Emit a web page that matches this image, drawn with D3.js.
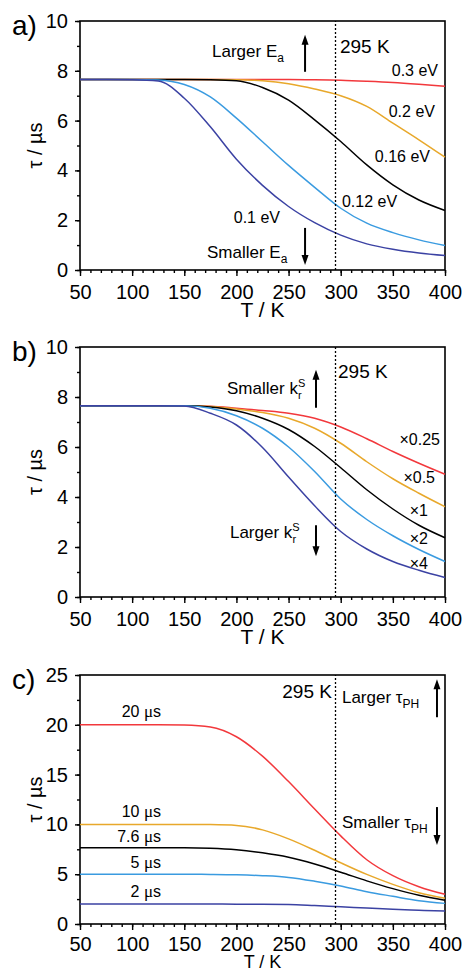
<!DOCTYPE html>
<html>
<head>
<meta charset="utf-8">
<script src="https://cdn.jsdelivr.net/npm/d3@7"></script>
<style>
  body { margin: 0; background: #fff; }
  svg { display: block; font-family: "Liberation Sans", Arial, sans-serif; }
</style>
</head>
<body>
<div id="chart"></div>
<script>
// temperature grid (K) the curves were read at
const temps = [50, 75, 100, 125, 150, 175, 200, 225, 250, 275, 300, 325, 350, 375, 400];

// a) activation energy
const ea030 = [7.65, 7.65, 7.65, 7.65, 7.65, 7.65, 7.65, 7.65, 7.65, 7.64, 7.62, 7.58, 7.53, 7.46, 7.38];
const ea020 = [7.65, 7.65, 7.65, 7.65, 7.65, 7.65, 7.64, 7.6, 7.48, 7.27, 7.0, 6.57, 5.9, 5.23, 4.53];
const ea016 = [7.65, 7.65, 7.65, 7.65, 7.65, 7.64, 7.6, 7.33, 6.82, 6.03, 5.16, 4.22, 3.42, 2.81, 2.39];
const ea012 = [7.65, 7.65, 7.65, 7.63, 7.45, 6.95, 6.1, 5.15, 4.2, 3.32, 2.48, 1.88, 1.5, 1.21, 0.98];
const ea010 = [7.65, 7.65, 7.64, 7.59, 6.9, 5.75, 4.45, 3.4, 2.55, 1.9, 1.4, 1.05, 0.83, 0.68, 0.58];
const eaLabels = ["0.3 eV", "0.2 eV", "0.16 eV", "0.12 eV", "0.1 eV"];

// b) radiative rate factor
const k025 = [7.65, 7.65, 7.65, 7.65, 7.65, 7.63, 7.55, 7.46, 7.35, 7.15, 6.8, 6.33, 5.82, 5.35, 4.91];
const k05 = [7.65, 7.65, 7.65, 7.65, 7.65, 7.62, 7.52, 7.38, 7.15, 6.75, 6.15, 5.41, 4.73, 4.15, 3.61];
const k1 = [7.65, 7.65, 7.65, 7.65, 7.65, 7.6, 7.45, 7.15, 6.7, 6.02, 5.17, 4.29, 3.52, 2.87, 2.37];
const k2 = [7.65, 7.65, 7.65, 7.65, 7.65, 7.55, 7.25, 6.75, 6.0, 5.02, 3.92, 3.1, 2.45, 1.9, 1.42];
const k4 = [7.65, 7.65, 7.65, 7.65, 7.64, 7.35, 6.88, 5.98, 4.8, 3.65, 2.62, 1.92, 1.42, 1.07, 0.78];
const kLabels = ["\u00d70.25", "\u00d70.5", "\u00d71", "\u00d72", "\u00d74"];

// c) phosphorescence lifetime
const t20 = [20, 20, 20, 20, 19.97, 19.78, 18.8, 16.85, 14.3, 11.55, 8.85, 6.45, 4.85, 3.74, 2.98];
const t10 = [10, 10, 10, 10, 10, 9.98, 9.9, 9.45, 8.55, 7.4, 6.15, 4.98, 3.98, 3.14, 2.58];
const t76 = [7.65, 7.65, 7.65, 7.65, 7.65, 7.6, 7.45, 7.15, 6.7, 6.02, 5.2, 4.33, 3.55, 2.89, 2.39];
const t5 = [5, 5, 5, 5, 5, 4.98, 4.94, 4.85, 4.68, 4.3, 3.82, 3.24, 2.78, 2.34, 2.07];
const t2 = [2, 2, 2, 2, 2, 2, 1.99, 1.98, 1.96, 1.85, 1.72, 1.6, 1.47, 1.38, 1.3];
const tLabels = ["20 ", "10 ", "7.6 ", "5 ", "2 "];

const colors = ["#f2383c", "#e8a82b", "#000000", "#3a9be0", "#3b42a3"];
const font = "'Liberation Sans', Arial, sans-serif";

const width = 465, height = 971;
const svg = d3.select("#chart").append("svg")
  .attr("width", width)
  .attr("height", height);

const x = d3.scaleLinear().domain([50, 400]).range([80, 445]);

const panels = [
  {
    tag: "a)", top: 21, bottom: 270, yMax: 10, yMajor: 2, yMinor: 1,
    pad: 9, titleGap: 47, titleSize: 21,
    series: [ea030, ea020, ea016, ea012, ea010]
  },
  {
    tag: "b)", top: 347, bottom: 597, yMax: 10, yMajor: 2, yMinor: 1,
    pad: 9, titleGap: 47, titleSize: 21,
    series: [k025, k05, k1, k2, k4]
  },
  {
    tag: "c)", top: 675, bottom: 924, yMax: 25, yMajor: 5, yMinor: 2.5,
    pad: 7, titleGap: 44, titleSize: 18,
    series: [t20, t10, t76, t5, t2]
  }
];

function arrow(g, xp, y0, y1) {
  // y1 is the tip
  const dir = y1 < y0 ? -1 : 1;
  g.append("line")
    .attr("x1", xp).attr("x2", xp)
    .attr("y1", y0).attr("y2", y1 - dir * 8)
    .attr("stroke", "#000").attr("stroke-width", 2);
  g.append("path")
    .attr("d", `M${xp},${y1} L${xp - 3.5},${y1 - dir * 10} L${xp + 3.5},${y1 - dir * 10} Z`)
    .attr("fill", "#000");
}

function label(g, xp, yp, txt, size, anchor) {
  return g.append("text")
    .attr("x", xp).attr("y", yp)
    .attr("font-size", size)
    .attr("text-anchor", anchor || "start")
    .attr("fill", "#000")
    .text(txt);
}

const panelG = panels.map(function (p) {
  const y = d3.scaleLinear().domain([0, p.yMax]).range([p.bottom, p.top]);
  const g = svg.append("g");

  // minor + major ticks, x
  g.append("g")
    .attr("transform", `translate(0,${p.bottom})`)
    .call(d3.axisBottom(x).tickValues(d3.range(50, 401, 10)).tickSize(3).tickFormat(""))
    .call(a => a.select(".domain").remove());
  g.append("g")
    .attr("transform", `translate(0,${p.bottom})`)
    .call(d3.axisBottom(x).tickValues(d3.range(50, 401, 50)).tickSize(6).tickPadding(p.pad))
    .call(a => a.select(".domain").remove());

  // minor + major ticks, y
  g.append("g")
    .attr("transform", "translate(80,0)")
    .call(d3.axisLeft(y).tickValues(d3.range(0, p.yMax + 0.01, p.yMinor)).tickSize(3).tickFormat(""))
    .call(a => a.select(".domain").remove());
  g.append("g")
    .attr("transform", "translate(80,0)")
    .call(d3.axisLeft(y).tickValues(d3.range(0, p.yMax + 0.01, p.yMajor)).tickSize(5).tickPadding(7))
    .call(a => a.select(".domain").remove());

  g.selectAll(".tick line").attr("stroke", "#000").attr("stroke-width", 1.4);
  g.selectAll(".tick text")
    .attr("font-family", font)
    .attr("font-size", 20)
    .attr("fill", "#000");

  // frame
  g.append("rect")
    .attr("x", 80).attr("y", p.top)
    .attr("width", 365).attr("height", p.bottom - p.top)
    .attr("fill", "none")
    .attr("stroke", "#000")
    .attr("stroke-width", 1.6);

  // curves
  const line = d3.line()
    .x((d, i) => x(temps[i]))
    .y(d => y(d))
    .curve(d3.curveMonotoneX);
  g.selectAll("path.curve")
    .data(p.series)
    .enter()
    .append("path")
    .attr("class", "curve")
    .attr("d", line)
    .attr("fill", "none")
    .attr("stroke", (d, i) => colors[i])
    .attr("stroke-width", 1.5);

  // 295 K marker
  g.append("line")
    .attr("x1", x(295)).attr("x2", x(295))
    .attr("y1", p.bottom).attr("y2", p.top)
    .attr("stroke", "#000")
    .attr("stroke-width", 1.3)
    .attr("stroke-dasharray", "2,2");

  // axis titles
  g.append("text")
    .attr("transform", `translate(42,${(p.top + p.bottom) / 2}) rotate(-90)`)
    .attr("text-anchor", "middle")
    .attr("font-size", 20)
    .text("\u03c4 / \u00b5s");
  g.append("text")
    .attr("x", x(225)).attr("y", p.bottom + p.titleGap)
    .attr("text-anchor", "middle")
    .attr("font-size", p.titleSize)
    .text("T / K");

  // panel tag
  label(g, 12, p.top + 14, p.tag, 28);

  return { g: g, y: y };
});

// a) annotations
(function () {
  const { g, y } = panelG[0];
  label(g, x(299.3), y(8.73), "295 K", 19);
  const up = label(g, x(176.6), y(8.56), "Larger E", 17);
  up.append("tspan").attr("dy", 5).attr("font-size", 12).text("a");
  arrow(g, x(265.8), y(7.96), y(9.45));
  const dn = label(g, x(171.8), y(0.48), "Smaller E", 17);
  dn.append("tspan").attr("dy", 5).attr("font-size", 12).text("a");
  arrow(g, x(265.8), y(1.69), y(0.2));
  const pos = [[393.3, 7.8, "end"], [390.4, 6.15, "end"], [385.6, 4.34, "end"], [301.2, 2.53, "start"], [241.8, 1.89, "end"]];
  eaLabels.forEach((t, i) => label(g, x(pos[i][0]), y(pos[i][1]), t, 16, pos[i][2]));
})();

// b) annotations
(function () {
  const { g, y } = panelG[1];
  label(g, x(297.4), y(8.77), "295 K", 19);
  const up = label(g, x(191), y(8.14), "Smaller k", 17);
  up.append("tspan").attr("dy", -7).attr("font-size", 11).text("S");
  up.append("tspan").attr("dx", -7.3).attr("dy", 12).attr("font-size", 11).text("r");
  arrow(g, x(276.3), y(7.57), y(9.09));
  const dn = label(g, x(193.8), y(2.35), "Larger k", 17);
  dn.append("tspan").attr("dy", -7).attr("font-size", 11).text("S");
  dn.append("tspan").attr("dx", -7.3).attr("dy", 12).attr("font-size", 11).text("r");
  arrow(g, x(276.3), y(2.87), y(1.63));
  const pos = [[395.2, 6.08], [390.4, 4.56], [383.7, 3.24], [383.7, 2.12], [383.7, 1.12]];
  kLabels.forEach((t, i) => label(g, x(pos[i][0]), y(pos[i][1]), t, 16, "end"));
})();

// c) annotations
(function () {
  const { g, y } = panelG[2];
  label(g, x(291.6), y(22.67), "295 K", 19, "end");
  const up = label(g, x(301.2), y(22.17), "Larger \u03c4", 17);
  up.append("tspan").attr("dy", 5).attr("font-size", 12).text("PH");
  arrow(g, x(392.3), y(20.76), y(24.57));
  const dn = label(g, x(301.2), y(9.63), "Smaller \u03c4", 17);
  dn.append("tspan").attr("dy", 5).attr("font-size", 12).text("PH");
  arrow(g, x(392.3), y(11.74), y(7.92));
  const ys = [20.76, 10.73, 8.22, 5.62, 2.71];
  tLabels.forEach(function (t, i) {
    const tx = label(g, x(127.7), y(ys[i]), t, 16, "end");
    tx.append("tspan").attr("font-family", "'Liberation Serif', serif").attr("font-size", 17).text("\u03bc");
    tx.append("tspan").text("s");
  });
})();
</script>
</body>
</html>
